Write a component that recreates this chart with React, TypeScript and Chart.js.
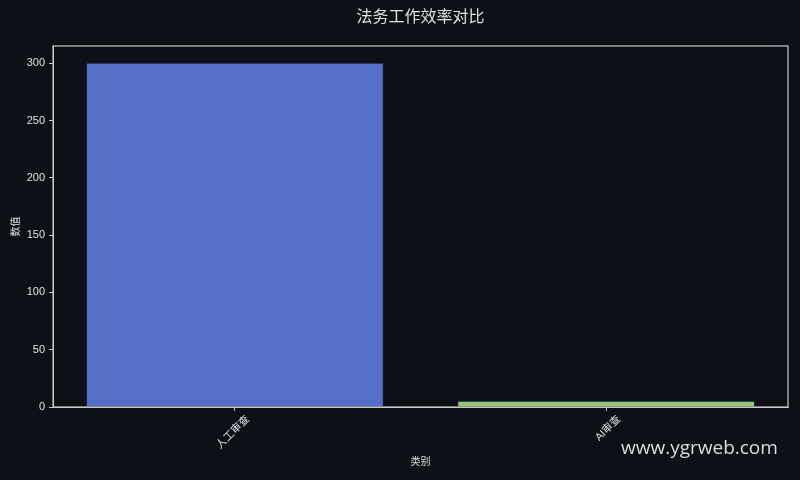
import React, { useEffect, useRef } from "react";
import { Chart, registerables } from "chart.js";

Chart.register(...registerables);

const categories = ["人工审查", "AI审查"];
const values = [300, 5];
const barColors = ["#5470c6", "#91cc75"];
const yTicks = [0, 50, 100, 150, 200, 250, 300];
const titleText = "法务工作效率对比";

const BG = "#0d1017";
const FG = "#e0e0e0";
const FRAME = "#c8c8c8";
const FONT = "'Liberation Sans', 'Noto Sans CJK SC', sans-serif";

// full box round the plot, and the title centred over the plot (not the canvas)
const framePlugin = {
  id: "frame",
  afterDraw(chart: Chart) {
    const { ctx, chartArea } = chart;
    ctx.save();
    ctx.strokeStyle = FRAME;
    ctx.lineWidth = 1.2;
    ctx.strokeRect(chartArea.left, chartArea.top, chartArea.right - chartArea.left, chartArea.bottom - chartArea.top);
    ctx.fillStyle = FG;
    ctx.font = `16px ${FONT}`;
    ctx.textAlign = "center";
    ctx.textBaseline = "middle";
    ctx.fillText(titleText, (chartArea.left + chartArea.right) / 2, 18);
    ctx.restore();
  },
};

const bgPlugin = {
  id: "bg",
  beforeDraw(chart: Chart) {
    const { ctx, width, height } = chart;
    ctx.save();
    ctx.fillStyle = BG;
    ctx.fillRect(0, 0, width, height);
    ctx.restore();
  },
};

const BarChart: React.FC = () => {
  const canvasRef = useRef<HTMLCanvasElement>(null);

  useEffect(() => {
    if (!canvasRef.current) return;
    const chart = new Chart(canvasRef.current, {
      type: "bar",
      data: {
        datasets: [
          {
            data: values.map((v, i) => ({ x: i, y: v })),
            backgroundColor: barColors,
            borderColor: "#3b4f8f",
            borderWidth: 0.6,
            barPercentage: 0.8,
            categoryPercentage: 1,
          },
        ],
      },
      options: {
        responsive: false,
        animation: false,
        devicePixelRatio: 1,
        layout: { padding: { left: 0, right: 12, top: 46, bottom: 0 } },
        plugins: {
          legend: { display: false },
          tooltip: { enabled: false },
          title: { display: false },
        },
        scales: {
          x: {
            type: "linear",
            min: -0.49,
            max: 1.49,
            offset: false,
            afterBuildTicks(scale: any) {
              scale.ticks = categories.map((_, i) => ({ value: i }));
            },
            afterFit(scale: any) {
              scale.height = 73;
            },
            ticks: {
              color: FG,
              font: { family: FONT, size: 10.5 },
              minRotation: 45,
              maxRotation: 45,
              padding: 2,
              labelOffset: 13,
              callback: (v: any) => categories[Math.round(Number(v))] ?? "",
            },
            grid: {
              offset: false,
              drawOnChartArea: false,
              drawTicks: true,
              tickLength: 4,
              color: FRAME,
            },
            border: { display: true, color: FRAME },
            title: {
              display: true,
              text: "类别",
              color: FG,
              font: { family: FONT, size: 10 },
              padding: { top: 0, bottom: 12 },
            },
          },
          y: {
            min: 0,
            max: 315,
            afterBuildTicks(scale: any) {
              scale.ticks = yTicks.map((v) => ({ value: v }));
            },
            afterFit(scale: any) {
              scale.width = 53;
            },
            ticks: {
              color: FG,
              font: { family: FONT, size: 11 },
              padding: 4,
            },
            grid: {
              drawOnChartArea: false,
              drawTicks: true,
              tickLength: 4,
              color: FRAME,
            },
            border: { display: true, color: FRAME },
            title: {
              display: true,
              text: "数值",
              color: FG,
              font: { family: FONT, size: 10 },
              padding: { top: 10, bottom: 0 },
            },
          },
        },
      },
      plugins: [bgPlugin, framePlugin],
    } as any);
    return () => chart.destroy();
  }, []);

  return <canvas ref={canvasRef} width={800} height={480} style={{ width: 800, height: 480, display: "block" }} />;
};

export default function App() {
  return (
    <div style={{ position: "fixed", left: 0, top: 0, width: 800, height: 480, background: BG }}>
      <BarChart />
      <div
        style={{
          position: "absolute",
          left: 621,
          top: 435,
          color: "#dcdcdc",
          fontFamily: "'Open Sans', 'Noto Sans', sans-serif",
          fontSize: 19,
          lineHeight: "24px",
          whiteSpace: "nowrap",
        }}
      >
        www.ygrweb.com
      </div>
    </div>
  );
}
